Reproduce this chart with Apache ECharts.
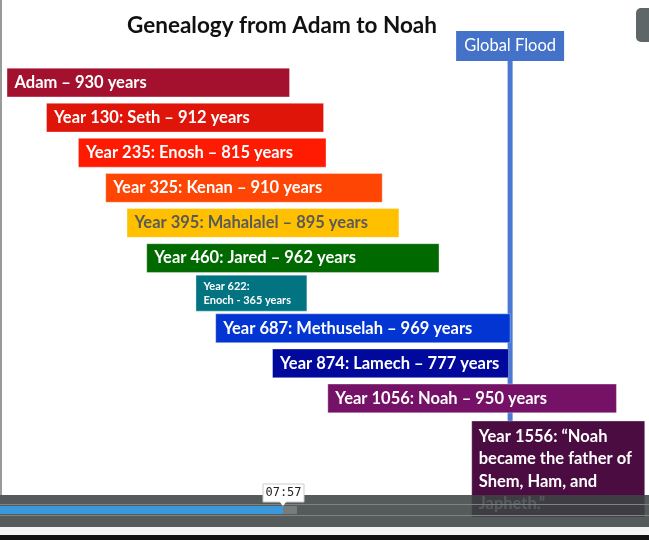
<!DOCTYPE html>
<html lang="en">
<head>
<meta charset="UTF-8">
<title>Genealogy from Adam to Noah</title>
<style>
  html, body { margin: 0; padding: 0; background: #fff; }
  #main { width: 649px; height: 540px; }
</style>
<script src="https://cdn.jsdelivr.net/npm/echarts@6/dist/echarts.min.js"></script>
</head>
<body>
<div id="main"></div>
<script>
var names = ['Adam', 'Seth', 'Enosh', 'Kenan', 'Mahalalel', 'Jared', 'Enoch', 'Methuselah', 'Lamech', 'Noah'];
var births = [0, 130, 235, 325, 395, 460, 622, 687, 874, 1056];
var lifespans = [930, 912, 815, 910, 895, 962, 365, 969, 777, 950];
var barColors = ['#a3112f', '#df1509', '#ff1a02', '#ff4504', '#ffc000', '#006a00', '#027380', '#0235d2', '#00099c', '#751166'];
var textColors = ['#fff', '#fff', '#fff', '#fff', '#5a5a5a', '#fff', '#fff', '#fff', '#fff', '#fff'];
var floodYear = 1656;
var sonsYear = 1556;
var sonsText = 'Year 1556: \u201cNoah\nbecame the father of\nShem, Ham, and\nJapheth.\u201d';

function barLabel(i) {
    if (i === 0) return names[i] + ' \u2013 ' + lifespans[i] + ' years';
    if (names[i] === 'Enoch') return 'Year ' + births[i] + ':\n' + names[i] + ' - ' + lifespans[i] + ' years';
    return 'Year ' + births[i] + ': ' + names[i] + ' \u2013 ' + lifespans[i] + ' years';
}

var rows = names.map(function (n, i) {
    return [births[i], births[i] + lifespans[i], i];
});

var font = 'Lato, "Open Sans", sans-serif';
var chart = echarts.init(document.getElementById('main'));

chart.setOption({
    animation: false,
    title: {
        text: 'Genealogy from Adam to Noah',
        left: 122,
        top: 9,
        textStyle: { fontFamily: font, fontSize: 22.5, fontWeight: 'bold', color: '#111' }
    },
    grid: { left: 7, top: 65, width: 638, height: 351 },
    xAxis: { type: 'value', min: 0, max: 2100, show: false },
    yAxis: { type: 'category', data: names, inverse: true, show: false },
    series: [{
        type: 'custom',
        z: 5,
        data: rows,
        encode: { x: [0, 1], y: 2 },
        renderItem: function (params, api) {
            var i = params.dataIndex;
            var cat = api.value(2);
            var p0 = api.coord([api.value(0), cat]);
            var p1 = api.coord([api.value(1), cat]);
            var small = names[i] === 'Enoch';
            var h = small ? 36 : api.size([0, 1])[1] * 0.82;
            return {
                type: 'rect',
                shape: { x: p0[0], y: p0[1] - h / 2, width: p1[0] - p0[0], height: h },
                style: { fill: barColors[i], stroke: 'rgba(255,255,255,0.35)', lineWidth: 1 },
                textContent: {
                    style: {
                        text: barLabel(i),
                        fill: textColors[i],
                        fontFamily: font,
                        fontWeight: 'bold',
                        fontSize: small ? 11 : 16.5,
                        lineHeight: small ? 14 : 20
                    }
                },
                textConfig: { position: 'insideLeft', distance: 8 }
            };
        }
    }]
});

var fx = chart.convertToPixel({ xAxisIndex: 0 }, floodYear);
var sx = chart.convertToPixel({ xAxisIndex: 0 }, sonsYear);

chart.setOption({
    graphic: [
        // left edge of the frame
        { type: 'rect', z: 1, shape: { x: 0, y: 0, width: 2, height: 495 }, style: { fill: '#9a9a9a' } },
        // flood line and label
        { type: 'rect', z: 1, shape: { x: fx - 2.5, y: 58, width: 5, height: 380 }, style: { fill: '#4a78d2' } },
        { type: 'rect', z: 10, shape: { x: fx - 54, y: 31, width: 108, height: 30 }, style: { fill: '#4472c8' } },
        {
            type: 'text', z: 11, x: fx, y: 46,
            style: { text: 'Global Flood', fill: '#fff', font: '16.5px ' + font, align: 'center', verticalAlign: 'middle' }
        },
        // Year 1556 box
        {
            type: 'rect', z: 10, shape: { x: sx - 8, y: 421, width: 173, height: 96 },
            style: { fill: '#4b0d41', stroke: 'rgba(255,255,255,0.3)', lineWidth: 1 }
        },
        {
            type: 'text', z: 11, x: sx - 1, y: 425,
            style: { text: sonsText, fill: '#fff', font: 'bold 16.5px ' + font, lineHeight: 22.5, verticalAlign: 'top' }
        },
        // top-right player button
        { type: 'rect', z: 10, shape: { x: 636, y: 8, width: 30, height: 34, r: 5 }, style: { fill: '#5f6667' } },
        // video player bar
        { type: 'rect', z: 100, shape: { x: 0, y: 495, width: 649, height: 32 }, style: { fill: 'rgba(60,68,67,0.88)' } },
        { type: 'rect', z: 101, shape: { x: 0, y: 504, width: 649, height: 1 }, style: { fill: '#7e8484' } },
        { type: 'rect', z: 101, shape: { x: 0, y: 515, width: 649, height: 1 }, style: { fill: '#7e8484' } },
        { type: 'rect', z: 102, shape: { x: 283, y: 506, width: 14, height: 8 }, style: { fill: '#767b7b' } },
        { type: 'rect', z: 102, shape: { x: 0, y: 506, width: 283, height: 8 }, style: { fill: '#3a98db' } },
        { type: 'rect', z: 100, shape: { x: 0, y: 527, width: 649, height: 8 }, style: { fill: '#f4f4f4' } },
        { type: 'rect', z: 100, shape: { x: 0, y: 535, width: 649, height: 5 }, style: { fill: '#111' } },
        // time tooltip
        { type: 'rect', z: 103, shape: { x: 263, y: 484, width: 41, height: 18 }, style: { fill: '#fff', stroke: '#ccc', lineWidth: 1 } },
        { type: 'polygon', z: 103, shape: { points: [[279, 501], [287, 501], [283, 506]] }, style: { fill: '#fff' } },
        {
            type: 'text', z: 104, x: 283.5, y: 493,
            style: { text: '07:57', fill: '#222', font: '12px "DejaVu Sans Mono", monospace', align: 'center', verticalAlign: 'middle' }
        }
    ]
});
</script>
</body>
</html>
